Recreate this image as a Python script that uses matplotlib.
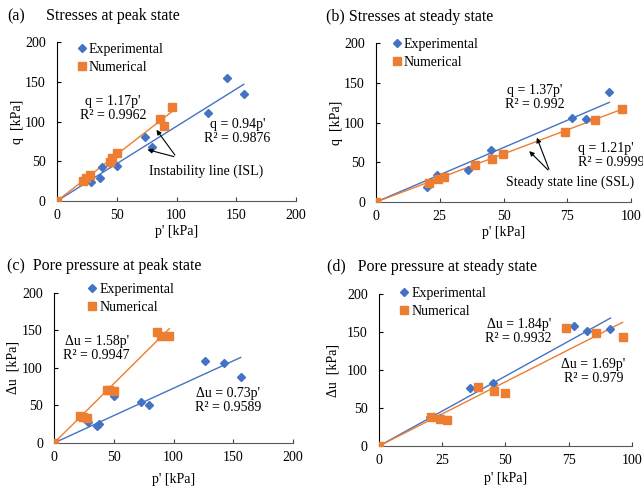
import numpy as np
import matplotlib
matplotlib.use('Agg')
import matplotlib.pyplot as plt

# 峰值状态 (peak state) - 试验
p_peak_exp = [0, 28.6, 35.6, 38.0, 50.6, 73.2, 79.3, 126.6, 142.4, 156.2]
q_peak_exp = [0, 24.4, 28.6, 42.4, 44.5, 80.3, 68.5, 110.5, 155.0, 135.0]
du_peak_exp = [0, 28.1, 22.8, 25.4, 62.5, 54.5, 50.4, 109.4, 107.1, 87.5]

# 峰值状态 - 数值
p_peak_num = [0, 21.7, 24.5, 27.5, 44.7, 46.0, 50.2, 86.0, 89.5, 96.5]
q_peak_num = [0, 25.2, 29.4, 33.2, 48.7, 54.6, 61.0, 103.8, 94.5, 118.0]
du_peak_num = [0, 35.7, 35.3, 33.0, 70.5, 71.0, 68.8, 148.2, 142.0, 142.0]

# 稳态 (steady state) - 试验
p_ss_exp = [0, 20.1, 24.1, 36.1, 45.1, 77.0, 82.2, 91.5]
q_ss_exp = [0, 18.9, 33.7, 40.0, 65.3, 105.3, 104.0, 139.0]
du_ss_exp = [0, 38.7, 36.5, 76.9, 82.6, 157.8, 151.6, 153.4]

# 稳态 - 数值
p_ss_num = [0, 20.6, 24.2, 26.7, 39.0, 45.3, 49.9, 74.1, 85.7, 96.3]
q_ss_num = [0, 24.0, 28.6, 31.6, 46.3, 54.3, 59.8, 88.4, 103.2, 117.0]
du_ss_num = [0, 37.8, 35.6, 33.8, 77.8, 73.0, 70.3, 155.2, 149.0, 142.9]

# 拟合斜率 (试验, 数值)
slopes = {'a': (0.94, 1.17), 'b': (1.37, 1.21), 'c': (0.73, 1.58), 'd': (1.84, 1.69)}

blue = '#4472C4'
orange = '#ED7D31'

plt.rcParams['font.family'] = ['Liberation Serif', 'DejaVu Serif']

fig = plt.figure(figsize=(6.43, 4.91), dpi=100)

# 子图位置 (figure fraction)
pos = {
    'a': [0.0886, 0.5906, 0.372, 0.3238],
    'b': [0.5848, 0.5886, 0.3966, 0.3238],
    'c': [0.0840, 0.0978, 0.3717, 0.3055],
    'd': [0.5894, 0.0916, 0.3935, 0.3096],
}
# 图例锚点 / 轴标签间距
leg_anchor = {'a': (0.086, 0.995), 'b': (0.065, 1.031), 'c': (0.142, 1.067), 'd': (0.084, 1.046)}
xlab_pad = {'a': 2, 'b': 2, 'c': 6, 'd': 3.5}
ylab_pad = {'a': 0.5, 'b': 1, 'c': 2, 'd': 5.5}

fs = 10


def make_panel(key, pe, ye, pn, yn, xmax, xstep, ylab):
    ax = fig.add_axes(pos[key])
    se, sn = slopes[key]
    # 拟合直线
    xe = np.array([0, max(pe)])
    xn = np.array([0, max(pn)])
    ax.plot(xe, se * xe, color=blue, lw=1.0, zorder=2)
    ax.plot(xn, sn * xn, color=orange, lw=1.0, zorder=2)
    # 散点
    ax.plot(pe, ye, 'D', color=blue, ms=4.2, ls='none', label='Experimental', zorder=3)
    ax.plot(pn, yn, 's', color=orange, ms=5.5, ls='none', label='Numerical', zorder=4)
    ax.set_xlim(0, xmax)
    ax.set_ylim(0, 200)
    ax.set_xticks(np.arange(0, xmax + 1, xstep))
    ax.set_yticks(np.arange(0, 201, 50))
    for s in ['top', 'right']:
        ax.spines[s].set_visible(False)
    ax.spines['left'].set_color('black')
    ax.spines['bottom'].set_color('#595959')
    ax.spines['left'].set_linewidth(0.8)
    ax.spines['bottom'].set_linewidth(0.8)
    ax.tick_params(axis='x', direction='in', length=3, width=0.8, color='#404040',
                   labelsize=fs, pad=6)
    ax.tick_params(axis='y', direction='in', length=3, width=0.8, color='black',
                   labelsize=fs, pad=8)
    ax.set_xlabel("p' [kPa]", fontsize=fs, labelpad=xlab_pad[key])
    ax.set_ylabel(ylab, fontsize=fs, labelpad=ylab_pad[key])
    ax.legend(loc='upper left', bbox_to_anchor=leg_anchor[key], frameon=False,
              fontsize=fs, handlelength=0.6, handletextpad=0.2,
              labelspacing=0.35, borderaxespad=0, borderpad=0)
    return ax


ax_a = make_panel('a', p_peak_exp, q_peak_exp, p_peak_num, q_peak_num, 200, 50, 'q  [kPa]')
ax_b = make_panel('b', p_ss_exp, q_ss_exp, p_ss_num, q_ss_num, 100, 25, 'q  [kPa]')
ax_c = make_panel('c', p_peak_exp, du_peak_exp, p_peak_num, du_peak_num, 200, 50, 'Δu  [kPa]')
ax_d = make_panel('d', p_ss_exp, du_ss_exp, p_ss_num, du_ss_num, 100, 25, 'Δu  [kPa]')

arrow = dict(arrowstyle='-|>', color='black', lw=0.8, mutation_scale=7)

# (a) 公式与箭头
ax_a.text(47, 117, "q = 1.17p'\nR² = 0.9962", ha='center', va='center', fontsize=fs, linespacing=1.1)
ax_a.text(151, 87, "q = 0.94p'\nR² = 0.9876", ha='center', va='center', fontsize=fs, linespacing=1.1)
ax_a.text(125, 37, "Instability line (ISL)", ha='center', va='center', fontsize=fs)
for tip in [(81.8, 92.4), (73.4, 65.5)]:
    ax_a.annotate('', xy=tip, xytext=(100, 55), arrowprops=arrow)

# (b) 右侧文字在原图中被裁切
ax_b.text(62.4, 132, "q = 1.37p'\nR² = 0.992", ha='center', va='center', fontsize=fs, linespacing=1.1)
ax_b.text(79.3, 59, "q = 1.21p'\nR² = 0.9999", ha='left', va='center', fontsize=fs,
          linespacing=1.1, clip_on=False)
ax_b.text(76, 25, "Steady state line (SSL)", ha='center', va='center', fontsize=fs)
for tip in [(62.7, 84.2), (59.3, 66.5)]:
    ax_b.annotate('', xy=tip, xytext=(68.2, 37.9), arrowprops=arrow)

# (c)
ax_c.text(35.7, 126, "Δu = 1.58p'\nR² = 0.9947", ha='center', va='center', fontsize=fs, linespacing=1.1)
ax_c.text(145.7, 57, "Δu = 0.73p'\nR² = 0.9589", ha='center', va='center', fontsize=fs, linespacing=1.1)

# (d)
ax_d.text(55.2, 150.8, "Δu = 1.84p'\nR² = 0.9932", ha='center', va='center', fontsize=fs, linespacing=1.1)
ax_d.text(84.8, 98, "Δu = 1.69p'\nR² = 0.979", ha='center', va='center', fontsize=fs, linespacing=1.1)

# 标题
tfs = 11.5
fig.text(7 / 643, 1 - 16 / 491, "(a)", fontsize=tfs, va='center')
fig.text(46 / 643, 1 - 16 / 491, "Stresses at peak state", fontsize=tfs, va='center')
fig.text(326 / 643, 1 - 17 / 491, "(b) Stresses at steady state", fontsize=tfs, va='center')
fig.text(7 / 643, 1 - 266 / 491, "(c)  Pore pressure at peak state", fontsize=tfs, va='center')
fig.text(327 / 643, 1 - 267 / 491, "(d)   Pore pressure at steady state", fontsize=tfs, va='center')

fig.savefig('out.png', dpi=100)
